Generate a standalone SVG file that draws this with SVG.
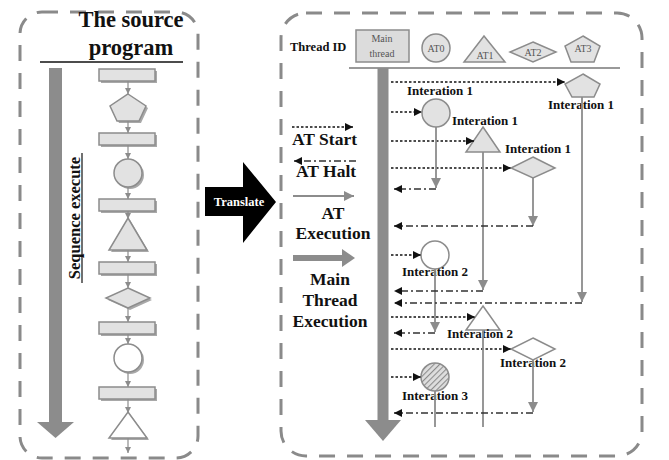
<svg xmlns="http://www.w3.org/2000/svg" width="669" height="460" viewBox="0 0 669 460">
<style>
.border{fill:none;stroke:#8a8a8a;stroke-width:3;stroke-dasharray:16 12}
.shape{fill:#e2e2e2;stroke:#8c8c8c;stroke-width:1.5}
.white{fill:#ffffff;stroke:#8c8c8c;stroke-width:1.5}
.shadow{fill:#a8a8a8;stroke:none}
.flow{stroke:#8c8c8c;stroke-width:1.2;fill:none}
.start{stroke:#111;stroke-width:1.6;stroke-dasharray:2.5 2;fill:none}
.halt{stroke:#333;stroke-width:1.6;stroke-dasharray:7 3 2 3;fill:none}
.exec{stroke:#8c8c8c;stroke-width:1.8;fill:none}
.b{font-family:"Liberation Serif","Times New Roman",serif;font-weight:bold;fill:#111}
.r{font-family:"Liberation Serif","Times New Roman",serif;fill:#555;font-size:10px;text-anchor:middle}
.it{font-size:13px}
.lg{font-size:17.5px}
</style>
<defs>
<marker id="mBlack" markerUnits="userSpaceOnUse" markerWidth="9" markerHeight="8" refX="8" refY="4" orient="auto"><path d="M0,0 L8,4 L0,8 Z" fill="#111"/></marker>
<marker id="mGrey" markerUnits="userSpaceOnUse" markerWidth="11" markerHeight="10" refX="10" refY="5" orient="auto"><path d="M0,0 L10,5 L0,10 Z" fill="#8c8c8c"/></marker>
<marker id="mSmall" markerUnits="userSpaceOnUse" markerWidth="7" markerHeight="6" refX="6" refY="3" orient="auto"><path d="M0,0 L6,3 L0,6 Z" fill="#8c8c8c"/></marker>
<pattern id="hatch" width="4" height="4" patternUnits="userSpaceOnUse" patternTransform="rotate(45)"><rect width="4" height="4" fill="#dedede"/><line x1="0" y1="0" x2="0" y2="4" stroke="#8c8c8c" stroke-width="2.2"/></pattern>
</defs>

<!-- Left panel -->
<g id="source-panel">
<rect class="border" x="20" y="12" width="178" height="446" rx="22"/>
<text class="b" x="131" y="27" font-size="22.5" text-anchor="middle">The source</text>
<text class="b" x="131" y="55" font-size="22.5" text-anchor="middle">program</text>
<line x1="40" y1="62" x2="183" y2="62" stroke="#111" stroke-width="1.5"/>
</g>
<g id="sequence-arrow">
<rect x="49" y="68" width="13" height="355" fill="#8c8c8c"/>
<polygon points="37,422 74,422 55.5,438" fill="#8c8c8c"/>
<text class="b" transform="translate(80,218) rotate(-90)" font-size="16.5" text-anchor="middle">Sequence execute</text>
<line x1="82" y1="153" x2="82" y2="283" stroke="#111" stroke-width="1.2"/>
</g>
<g id="flow-shapes">
<rect class="shadow" x="101" y="71" width="56" height="12"/><rect class="shape" x="99" y="69" width="56" height="12"/>
<polygon class="shadow" points="130,96 148,108 141,123 119,123 112,108"/><polygon class="shape" points="128,94 146,106 139,121 117,121 110,106"/>
<rect class="shadow" x="101" y="135" width="56" height="12"/><rect class="shape" x="99" y="133" width="56" height="12"/>
<circle class="shadow" cx="130" cy="175" r="14"/><circle class="shape" cx="128" cy="173" r="14"/>
<rect class="shadow" x="101" y="201" width="56" height="12"/><rect class="shape" x="99" y="199" width="56" height="12"/>
<polygon class="shadow" points="130,220 149,252 111,252"/><polygon class="shape" points="128,218 147,250 109,250"/>
<rect class="shadow" x="101" y="264" width="56" height="12"/><rect class="shape" x="99" y="262" width="56" height="12"/>
<polygon class="shadow" points="130,290 152,300 130,310 108,300"/><polygon class="shape" points="128,288 150,298 128,308 106,298"/>
<rect class="shadow" x="101" y="324" width="56" height="12"/><rect class="shape" x="99" y="322" width="56" height="12"/>
<circle class="shadow" cx="130" cy="360" r="14"/><circle class="white" cx="128" cy="358" r="14"/>
<rect class="shadow" x="101" y="389" width="56" height="12"/><rect class="shape" x="99" y="387" width="56" height="12"/>
<polygon class="shadow" points="130,414 149,440 111,440"/><polygon class="white" points="128,412 147,438 109,438"/>
</g>
<g id="flow-connectors">
<line class="flow" x1="128" y1="81" x2="128" y2="94" marker-end="url(#mSmall)"/>
<line class="flow" x1="128" y1="121" x2="128" y2="133" marker-end="url(#mSmall)"/>
<line class="flow" x1="128" y1="145" x2="128" y2="159" marker-end="url(#mSmall)"/>
<line class="flow" x1="128" y1="187" x2="128" y2="199" marker-end="url(#mSmall)"/>
<line class="flow" x1="128" y1="211" x2="128" y2="219" marker-end="url(#mSmall)"/>
<line class="flow" x1="128" y1="250" x2="128" y2="262" marker-end="url(#mSmall)"/>
<line class="flow" x1="128" y1="274" x2="128" y2="288" marker-end="url(#mSmall)"/>
<line class="flow" x1="128" y1="308" x2="128" y2="322" marker-end="url(#mSmall)"/>
<line class="flow" x1="128" y1="334" x2="128" y2="344" marker-end="url(#mSmall)"/>
<line class="flow" x1="128" y1="372" x2="128" y2="387" marker-end="url(#mSmall)"/>
<line class="flow" x1="128" y1="399" x2="128" y2="413" marker-end="url(#mSmall)"/>
<line class="flow" x1="128" y1="438" x2="128" y2="453" marker-end="url(#mSmall)"/>
</g>

<!-- Translate arrow -->
<g id="translate">
<polygon points="205,187 243,187 243,162 276,202 243,243 243,216 205,216" fill="#000"/>
<text x="239" y="206" font-family="Liberation Serif, serif" font-weight="bold" font-size="12.5" fill="#fff" text-anchor="middle">Translate</text>
</g>

<!-- Right panel -->
<g id="thread-panel">
<rect class="border" x="281" y="13" width="361" height="443" rx="25"/>
<text class="b" x="290" y="51" font-size="12.5">Thread ID</text>
<line x1="349" y1="68" x2="620" y2="68" stroke="#999" stroke-width="2"/>
</g>
<g id="main-thread-id">
<rect x="356" y="30" width="53" height="32" fill="#dcdcdc" stroke="#8c8c8c" stroke-width="1.5"/>
<text class="r" x="382" y="42">Main</text>
<text class="r" x="382" y="57">thread</text>
</g>
<g id="at0-id"><circle class="shape" cx="436" cy="48" r="14"/><text class="r" x="436" y="52">AT0</text></g>
<g id="at1-id"><polygon class="shape" points="484,36 505,62 464,62"/><text class="r" x="485" y="59">AT1</text></g>
<g id="at2-id"><polygon class="shape" points="533,42 556,52 533,62 510,52"/><text class="r" x="533" y="56">AT2</text></g>
<g id="at3-id"><polygon class="shape" points="583,36 600,46 594,62 571,62 565,46"/><text class="r" x="583" y="52">AT3</text></g>

<g id="main-thread">
<rect x="377.5" y="68" width="11" height="353" fill="#8c8c8c"/>
<polygon points="365,420 401,420 383,441" fill="#8c8c8c"/>
</g>

<g id="legend">
<line class="start" x1="292" y1="127" x2="353" y2="127" marker-end="url(#mBlack)"/>
<text class="b lg" x="292" y="145">AT Start</text>
<line class="halt" x1="356" y1="161" x2="294" y2="161" marker-end="url(#mBlack)"/>
<text class="b lg" x="296" y="177">AT Halt</text>
<line class="exec" x1="293" y1="196" x2="354" y2="196" marker-end="url(#mGrey)"/>
<text class="b lg" x="333" y="219" text-anchor="middle">AT</text>
<text class="b lg" x="333" y="239" text-anchor="middle">Execution</text>
<line x1="293" y1="258" x2="343" y2="258" stroke="#8c8c8c" stroke-width="6"/>
<polygon points="342,249 355,258 342,267" fill="#8c8c8c"/>
<text class="b lg" x="330" y="285" text-anchor="middle">Main</text>
<text class="b lg" x="330" y="306" text-anchor="middle">Thread</text>
<text class="b lg" x="330" y="327" text-anchor="middle">Execution</text>
</g>

<!-- Iteration nodes -->
<g id="at3-iter1"><polygon class="shape" points="583,74 600,84 594,97 572,97 565,84"/><text class="b it" x="548" y="109">Interation 1</text></g>
<g id="at0-iter1"><circle class="shape" cx="436" cy="113" r="14"/><text class="b it" x="407" y="95">Interation 1</text></g>
<g id="at1-iter1"><polygon class="shape" points="483,127 500,152 466,152"/><text class="b it" x="452" y="125">Interation 1</text></g>
<g id="at2-iter1"><polygon class="shape" points="533,157 555,168 533,178 511,168"/><text class="b it" x="505" y="153">Interation 1</text></g>
<g id="at0-iter2"><circle class="white" cx="435" cy="255" r="14"/><text class="b it" x="402" y="276">Interation 2</text></g>
<g id="at1-iter2"><polygon class="white" points="483,306 500,330 466,330"/><text class="b it" x="447" y="338">Interation 2</text></g>
<g id="at2-iter2"><polygon class="white" points="533,338 555,349 533,360 511,349"/><text class="b it" x="500" y="367">Interation 2</text></g>
<g id="at0-iter3"><circle cx="435" cy="377" r="14" fill="url(#hatch)" stroke="#8c8c8c" stroke-width="1.5"/><text class="b it" x="402" y="400">Interation 3</text></g>

<g id="connectors">
<!-- AT start -->
<line class="start" x1="391" y1="82" x2="565" y2="82" marker-end="url(#mBlack)"/>
<line class="start" x1="391" y1="112" x2="422" y2="112" marker-end="url(#mBlack)"/>
<line class="start" x1="391" y1="141" x2="474" y2="141" marker-end="url(#mBlack)"/>
<line class="start" x1="391" y1="168" x2="511" y2="168" marker-end="url(#mBlack)"/>
<line class="start" x1="391" y1="255" x2="421" y2="255" marker-end="url(#mBlack)"/>
<line class="start" x1="391" y1="317" x2="475" y2="317" marker-end="url(#mBlack)"/>
<line class="start" x1="391" y1="349" x2="511" y2="349" marker-end="url(#mBlack)"/>
<line class="start" x1="391" y1="377" x2="421" y2="377" marker-end="url(#mBlack)"/>
<!-- AT execution -->
<line class="exec" x1="436" y1="127" x2="436" y2="188" marker-end="url(#mGrey)"/>
<line class="exec" x1="533" y1="178" x2="533" y2="226" marker-end="url(#mGrey)"/>
<line class="exec" x1="483" y1="152" x2="483" y2="290" marker-end="url(#mGrey)"/>
<line class="exec" x1="582" y1="97" x2="582" y2="302" marker-end="url(#mGrey)"/>
<line class="exec" x1="435" y1="269" x2="435" y2="332" marker-end="url(#mGrey)"/>
<line class="exec" x1="533" y1="360" x2="533" y2="412" marker-end="url(#mGrey)"/>
<line class="exec" x1="435" y1="391" x2="435" y2="427"/>
<line class="exec" x1="483" y1="330" x2="483" y2="427"/>
<!-- AT halt -->
<line class="halt" x1="436" y1="189" x2="394" y2="189" marker-end="url(#mBlack)"/>
<line class="halt" x1="533" y1="226" x2="394" y2="226" marker-end="url(#mBlack)"/>
<line class="halt" x1="483" y1="291" x2="394" y2="291" marker-end="url(#mBlack)"/>
<line class="halt" x1="582" y1="303" x2="394" y2="303" marker-end="url(#mBlack)"/>
<line class="halt" x1="435" y1="333" x2="394" y2="333" marker-end="url(#mBlack)"/>
<line class="halt" x1="533" y1="413" x2="394" y2="413" marker-end="url(#mBlack)"/>
</g>
</svg>
